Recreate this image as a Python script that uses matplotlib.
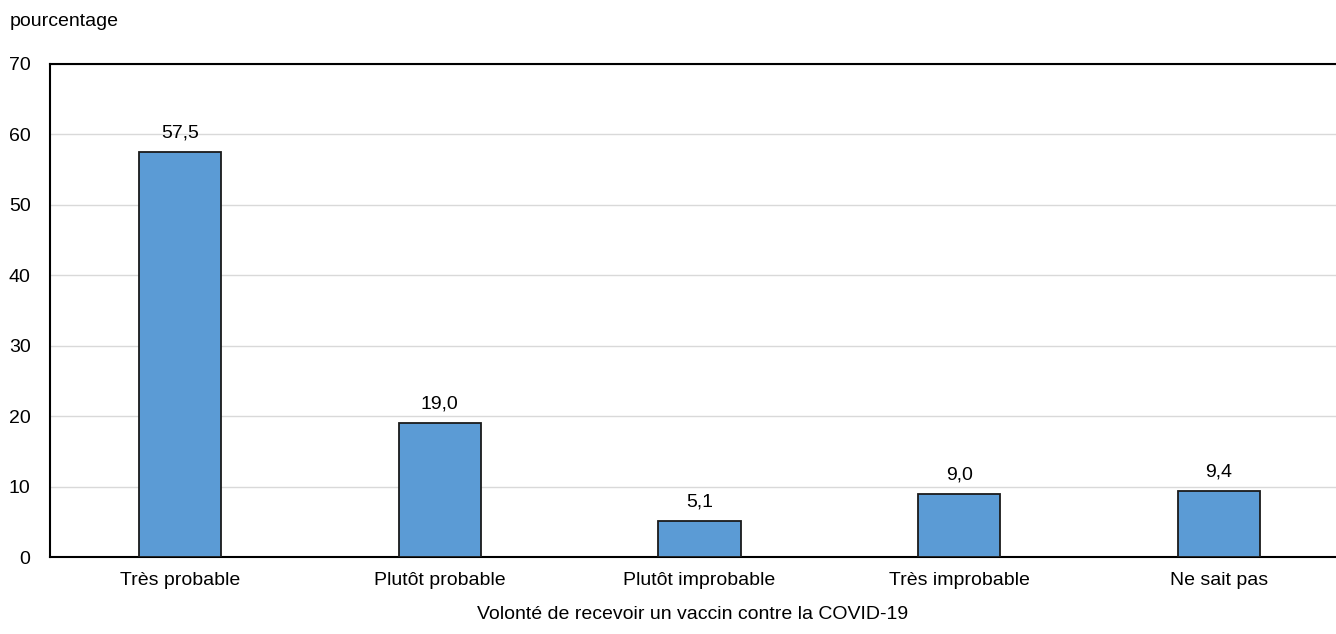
import matplotlib
matplotlib.use("Agg")
import matplotlib.pyplot as plt

categories = ["Très probable", "Plutôt probable", "Plutôt improbable",
              "Très improbable", "Ne sait pas"]
values = [57.5, 19.0, 5.1, 9.0, 9.4]
yticks = [0, 10, 20, 30, 40, 50, 60, 70]

plt.rcParams['font.family'] = ['Liberation Sans', 'DejaVu Sans']
fs = 14

fig = plt.figure(figsize=(13.36, 6.34), dpi=100)
ax = fig.add_axes([50 / 1336, 1 - 557 / 634, 1 - 50 / 1336, (557 - 64) / 634])

x = list(range(len(categories)))
bars = ax.bar(x, values, width=0.316, color='#5B9BD5', edgecolor='#1a1a1a',
              linewidth=1.3, zorder=3)

for b, v in zip(bars, values):
    ax.text(b.get_x() + b.get_width() / 2, v + 1.5, f"{v:.1f}".replace('.', ','),
            ha='center', va='bottom', fontsize=fs)

ax.set_xlim(-0.5, 4.45)
ax.set_ylim(0, 70)
ax.set_yticks(yticks)
ax.set_xticks(x)
ax.set_xticklabels(categories)
ax.tick_params(axis='both', length=0, labelsize=fs)
ax.tick_params(axis='x', pad=11)
ax.tick_params(axis='y', pad=14)
ax.grid(axis='y', color='#d9d9d9', linewidth=1, zorder=0)

for s in ['left', 'top', 'bottom']:
    ax.spines[s].set_linewidth(1.5)
    ax.spines[s].set_color('black')
ax.spines['right'].set_visible(False)

ax.set_xlabel("Volonté de recevoir un vaccin contre la COVID-19", fontsize=fs,
              labelpad=12)
fig.text(10 / 1336, 1 - 22 / 634, "pourcentage", fontsize=fs,
         ha='left', va='center')

fig.savefig("out.png", dpi=100)
